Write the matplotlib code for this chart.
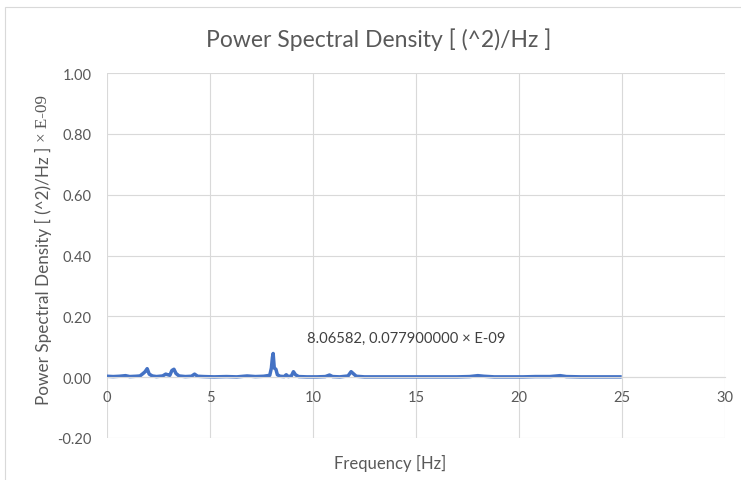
import matplotlib
matplotlib.use('Agg')
import matplotlib.pyplot as plt
from matplotlib.patches import Rectangle

# PSD values (units of 1e-9)
freq_hz = [0.0, 0.3, 0.6, 0.9, 1.1, 1.4, 1.6, 1.75, 1.85, 1.95, 2.05, 2.2,
           2.4, 2.7, 2.85, 2.95, 3.05, 3.15, 3.25, 3.35, 3.5, 3.8, 4.1, 4.25,
           4.4, 4.7, 5.2, 5.8, 6.3, 6.8, 7.2, 7.6, 7.9, 7.98, 8.03, 8.06582,
           8.12, 8.2, 8.27, 8.4, 8.6, 8.7, 8.8, 8.95, 9.05, 9.15, 9.3, 9.7,
           10.2, 10.6, 10.8, 10.95, 11.3, 11.7, 11.85, 11.95, 12.1, 12.5,
           13.2, 14.0, 15.0, 16.0, 17.0, 17.6, 18.0, 18.3, 18.8, 19.5, 20.2,
           20.8, 21.5, 22.0, 22.3, 23.0, 24.0, 24.9]
psd = [0.003, 0.002, 0.003, 0.005, 0.002, 0.003, 0.004, 0.012, 0.018, 0.028,
       0.010, 0.004, 0.002, 0.004, 0.010, 0.008, 0.006, 0.022, 0.026, 0.012,
       0.004, 0.002, 0.003, 0.010, 0.003, 0.002, 0.001, 0.002, 0.001, 0.004,
       0.002, 0.003, 0.006, 0.030, 0.065, 0.0779, 0.030, 0.026, 0.008, 0.003,
       0.002, 0.008, 0.002, 0.004, 0.018, 0.008, 0.002, 0.001, 0.001, 0.002,
       0.007, 0.002, 0.001, 0.004, 0.018, 0.012, 0.003, 0.001, 0.001, 0.001,
       0.001, 0.001, 0.001, 0.002, 0.005, 0.003, 0.001, 0.001, 0.001, 0.002,
       0.002, 0.005, 0.002, 0.001, 0.001, 0.001]

peak_f = 8.06582
peak_v = 0.0779

x_ticks = [0, 5, 10, 15, 20, 25, 30]
y_ticks = [-0.2, 0.0, 0.2, 0.4, 0.6, 0.8, 1.0]

FONT = 'Lato'
GRAY = '#595959'
GRID = '#d9d9d9'
LINE = '#4472C4'
W, H = 741, 481

fig = plt.figure(figsize=(W / 100, H / 100), dpi=100)
fig.patch.set_facecolor('white')

# chart-area border (only left/top visible in the crop)
fig.add_artist(Rectangle((5 / W, -0.1), 1.2, 1 - 8 / H + 0.1, fill=False,
                         edgecolor=GRID, lw=0.8, transform=fig.transFigure))

ax = fig.add_axes([107 / W, 1 - 439 / H, 618 / W, 365 / H])
ax.plot(freq_hz, psd, color=LINE, lw=2.5, solid_joinstyle='round')
ax.set_xlim(0, 30)
ax.set_ylim(-0.2, 1.0)
ax.set_xticks(x_ticks)
ax.set_yticks(y_ticks)
ax.set_xticklabels([str(t) for t in x_ticks])
ax.set_yticklabels([f'{t:.2f}' for t in y_ticks])
ax.grid(True, color=GRID, lw=0.8)
ax.set_axisbelow(True)
for s in ['top', 'right', 'left']:
    ax.spines[s].set_visible(False)
ax.spines['bottom'].set_position(('data', 0))
ax.spines['bottom'].set_color(GRID)
ax.spines['bottom'].set_linewidth(0.8)
ax.tick_params(axis='both', length=0, colors=GRAY, labelsize=10.5)
ax.tick_params(axis='x', pad=9)
ax.tick_params(axis='y', pad=11)
for lbl in ax.get_xticklabels() + ax.get_yticklabels():
    lbl.set_fontfamily(FONT)

ax.annotate(f'{peak_f}, {peak_v:.9f} × E-09', xy=(peak_f, peak_v),
            xytext=(34 * 0.72, 16 * 0.72), textcoords='offset points',
            ha='left', va='center', fontsize=10.6, color='#404040',
            fontfamily=FONT)

fig.text(379 / W, 1 - 40 / H, 'Power Spectral Density [ (^2)/Hz ]',
         ha='center', va='center', fontsize=16.5, color=GRAY, fontfamily=FONT)
fig.text(390 / W, 1 - 463 / H, 'Frequency [Hz]', ha='center', va='center',
         fontsize=12, color=GRAY, fontfamily=FONT)

# y label: sans part then serif "× E-09"
yl = fig.text(43 / W, 1 - 405 / H, 'Power Spectral Density [ (^2)/Hz ] ',
              rotation=90, ha='center', va='bottom', fontsize=12.3,
              color=GRAY, fontfamily=FONT)
fig.canvas.draw()
bb = yl.get_window_extent()
fig.text(43 / W, bb.y1 / H, '× E-09', rotation=90, ha='center',
         va='bottom', fontsize=12.3, color=GRAY, fontfamily='Liberation Serif')

fig.savefig('out.png', dpi=100)
